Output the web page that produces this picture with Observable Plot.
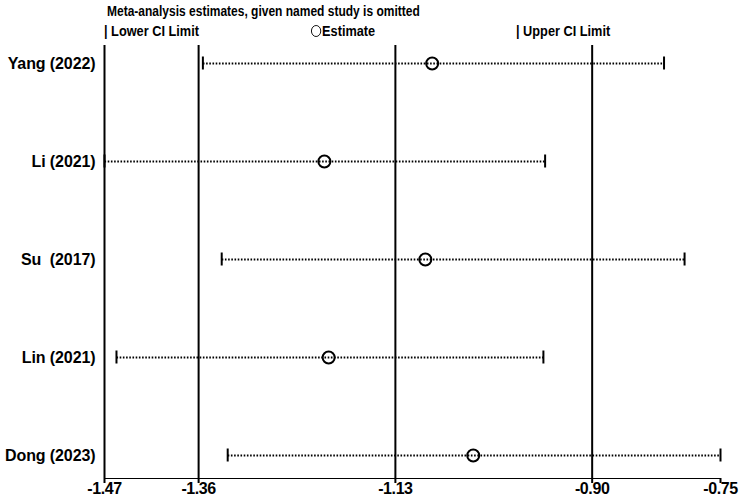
<!DOCTYPE html>
<html>
<head>
<meta charset="utf-8">
<script src="https://cdn.jsdelivr.net/npm/d3@7"></script>
<script src="https://cdn.jsdelivr.net/npm/@observablehq/plot@0.6"></script>
<style>
  html, body { margin: 0; padding: 0; background: #fff; }
  body { width: 744px; height: 497px; overflow: hidden; font-family: "Liberation Sans", Arial, sans-serif; }
  #header { position: relative; height: 40px; width: 744px; font-weight: bold; color: #000; }
  #title { position: absolute; left: 107px; top: 2px; font-size: 15px; white-space: nowrap; line-height: 17px; transform: scaleX(0.8); transform-origin: 0 50%; }
  .leg { position: absolute; top: 22px; font-size: 15px; white-space: pre; line-height: 17px; transform: scaleX(0.85); transform-origin: 0 50%; }
  .circ { display: inline-block; width: 10px; height: 10px; border: 1.7px solid #000; border-radius: 50%; vertical-align: -1px; margin-right: 1px; }
  #chart svg text { white-space: pre; }
  #chart svg [aria-label^="x-axis"] { stroke-width: 2; letter-spacing: -0.4px; }
  #chart svg [aria-label^="y-axis"] { letter-spacing: -0.1px; }
</style>
</head>
<body>
<div id="header">
  <div id="title">Meta-analysis estimates, given named study is omitted</div>
  <div class="leg" style="left:104px">| Lower CI Limit</div>
  <div class="leg" style="left:311px"><span class="circ"></span>Estimate</div>
  <div class="leg" style="left:516px">| Upper CI Limit</div>
</div>
<div id="chart"></div>
<script>
const studies = ["Yang (2022)", "Li (2021)", "Su  (2017)", "Lin (2021)", "Dong (2023)"];
const estimates = [-1.087, -1.213, -1.095, -1.208, -1.039];
const lowerCI = [-1.355, -1.47, -1.333, -1.456, -1.326];
const upperCI = [-0.816, -0.955, -0.792, -0.957, -0.75];
const xTicks = [-1.47, -1.36, -1.13, -0.90, -0.75];
const refLines = [-1.47, -1.36, -1.13, -0.90];

const rows = studies.map((s, i) => ({study: s, est: estimates[i], lo: lowerCI[i], hi: upperCI[i]}));

const chart = Plot.plot({
  width: 744,
  height: 457,
  marginLeft: 104,
  marginRight: 24,
  marginTop: 5,
  marginBottom: 19,
  style: {fontFamily: "'Liberation Sans', Arial, sans-serif", fontSize: "16px", fontWeight: "bold", color: "#000", background: "#fff"},
  x: {domain: [xTicks[0], xTicks[xTicks.length - 1]], ticks: xTicks, tickFormat: d => d.toFixed(2), tickSize: 5, tickPadding: -1, line: true, label: null},
  y: {type: "band", domain: studies, range: [-26, 464], padding: 0, tickSize: 0, tickPadding: 9, label: null},
  marks: [
    Plot.ruleX(refLines, {stroke: "#000", strokeWidth: 2}),
    Plot.link(rows, {x1: "lo", x2: "hi", y1: "study", y2: "study", stroke: "#000", strokeWidth: 2, strokeDasharray: "1.6,1.6"}),
    Plot.tickX(rows, {x: "lo", y: "study", stroke: "#000", strokeWidth: 2, insetTop: 42.5, insetBottom: 42.5}),
    Plot.tickX(rows, {x: "hi", y: "study", stroke: "#000", strokeWidth: 2, insetTop: 42.5, insetBottom: 42.5}),
    Plot.dot(rows, {x: "est", y: "study", r: 6, stroke: "#000", strokeWidth: 2, fill: "none"})
  ]
});
document.getElementById("chart").appendChild(chart);
</script>
</body>
</html>
